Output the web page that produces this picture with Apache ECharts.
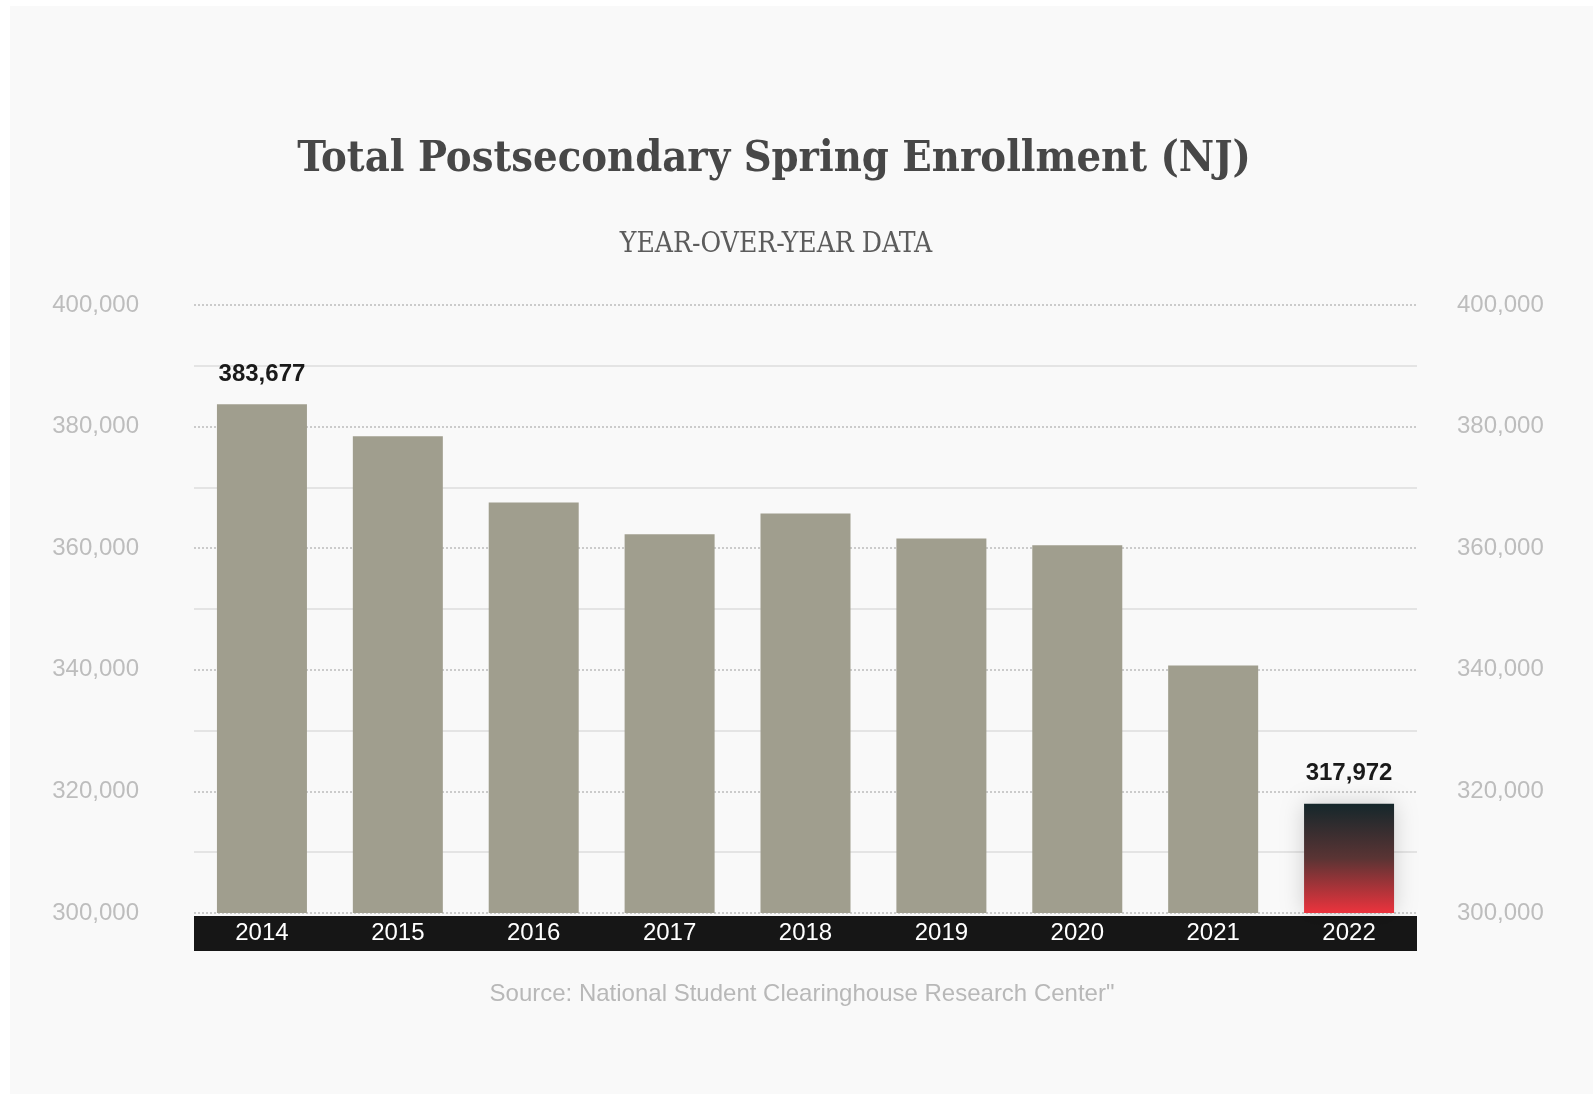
<!DOCTYPE html>
<html>
<head>
<meta charset="utf-8">
<script src="https://cdn.jsdelivr.net/npm/echarts@6/dist/echarts.min.js"></script>
<style>
  html, body { margin: 0; padding: 0; background: #ffffff; }
  #chart { position: absolute; left: 10px; top: 6px; width: 1583px; height: 1088px; }
</style>
</head>
<body>
<div id="chart"></div>
<script>
var years = ['2014', '2015', '2016', '2017', '2018', '2019', '2020', '2021', '2022'];
var enrollment = [383677, 378400, 367500, 362300, 365700, 361600, 360500, 340700, 317972];
var labelledYears = ['2014', '2022'];
var highlightYear = '2022';
var yMin = 300000, yMax = 400000, yStep = 20000;

var chart = echarts.init(document.getElementById('chart'));

function fmt(v) {
    return v.toString().replace(/\B(?=(\d{3})+(?!\d))/g, ',');
}

var barData = [];
for (var i = 0; i < years.length; i++) {
    var item = { value: enrollment[i] };
    if (labelledYears.indexOf(years[i]) >= 0) {
        item.label = { show: true };
    }
    if (years[i] === highlightYear) {
        item.itemStyle = {
            color: new echarts.graphic.LinearGradient(0, 0, 0, 1, [
                { offset: 0, color: '#15272b' },
                { offset: 0.5, color: '#5a3434' },
                { offset: 1, color: '#ec333d' }
            ]),
            shadowBlur: 22,
            shadowColor: 'rgba(0,0,0,0.18)'
        };
    }
    barData.push(item);
}

var yLabel = {
    color: '#bdbdbd',
    fontSize: 24,
    fontFamily: 'Liberation Sans, Arial, sans-serif',
    formatter: function (v) { return fmt(v); }
};

var option = {
    backgroundColor: '#f9f9f9',
    animation: false,
    grid: { left: 184, right: 176, top: 299, bottom: 181 },
    graphic: [
        {
            type: 'text', x: 764, y: 154,
            style: {
                text: 'Total Postsecondary Spring Enrollment (NJ)',
                fill: '#474747',
                font: 'bold 43px "DejaVu Serif Condensed", "DejaVu Serif", serif',
                align: 'center', verticalAlign: 'middle'
            }
        },
        {
            type: 'text', x: 766, y: 239,
            style: {
                text: 'YEAR-OVER-YEAR DATA',
                fill: '#5c5c5c',
                font: '28px "DejaVu Serif Condensed", "DejaVu Serif", serif',
                align: 'center', verticalAlign: 'middle'
            }
        },
        {
            type: 'text', x: 792, y: 988,
            style: {
                text: 'Source: National Student Clearinghouse Research Center"',
                fill: '#b8b8b8',
                font: '24px "Liberation Sans Narrow", "Liberation Sans", sans-serif',
                align: 'center', verticalAlign: 'middle'
            }
        }
    ],
    xAxis: {
        type: 'category',
        data: years,
        offset: 20,
        axisLine: { lineStyle: { color: '#161616', width: 35, cap: 'butt' } },
        axisTick: { show: false },
        axisLabel: {
            color: '#ffffff',
            fontSize: 24,
            fontFamily: 'Liberation Sans, Arial, sans-serif',
            margin: 0,
            verticalAlign: 'middle'
        }
    },
    yAxis: [
        {
            type: 'value',
            min: yMin, max: yMax, interval: yStep,
            axisLine: { show: false },
            axisTick: { show: false },
            axisLabel: Object.assign({ margin: 55 }, yLabel),
            splitLine: { lineStyle: { color: '#bcbcbc', type: [2, 2], width: 1.5 } },
            minorTick: { show: false, splitNumber: 2 },
            minorSplitLine: { show: true, lineStyle: { color: '#e4e4e4', width: 2 } }
        },
        {
            type: 'value',
            position: 'right',
            min: yMin, max: yMax, interval: yStep,
            axisLine: { show: false },
            axisTick: { show: false },
            axisLabel: Object.assign({ margin: 40 }, yLabel),
            splitLine: { show: false }
        }
    ],
    series: [
        {
            type: 'bar',
            data: barData,
            barWidth: 90,
            itemStyle: { color: '#a09e8e' },
            label: {
                show: false,
                position: 'top',
                distance: 18,
                color: '#1a1a1a',
                fontSize: 24,
                fontWeight: 'bold',
                fontFamily: 'Liberation Sans, Arial, sans-serif',
                formatter: function (p) { return fmt(p.value); }
            }
        }
    ]
};

chart.setOption(option);
</script>
</body>
</html>
